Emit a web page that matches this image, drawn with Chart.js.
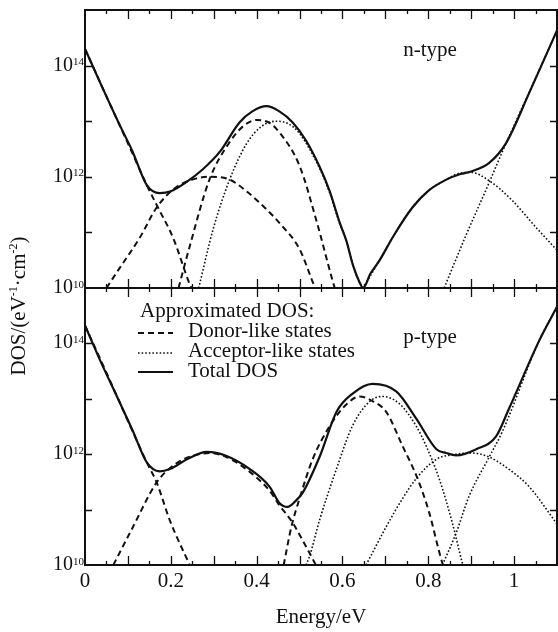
<!DOCTYPE html>
<html>
<head>
<meta charset="utf-8">
<script src="https://cdn.jsdelivr.net/npm/chart.js@4"></script>
<style>
  html, body { margin: 0; padding: 0; background: #fff; }
  #wrap { position: relative; width: 558px; height: 632px; }
  canvas { position: absolute; left: 0; top: 0; }
</style>
</head>
<body>
<div id="wrap">
  <canvas id="nChart" width="558" height="632"></canvas>
  <canvas id="pChart" width="558" height="632"></canvas>
</div>
<script>
// energy (eV), DOS (eV^-1 cm^-2) pairs

// n-type panel
const nTotal = [[0,2.0e14],[0.035,5.0e13],[0.081,8.5e12],[0.11,2.95e12],[0.144,7.1e11],[0.174,5.1e11],[0.2,5.5e11],[0.237,8.1e11],[0.274,1.35e12],[0.314,2.8e12],[0.36,9.5e12],[0.39,1.5e13],[0.423,1.86e13],[0.453,1.5e13],[0.484,9.5e12],[0.515,4.5e12],[0.547,1.5e12],[0.57,5.6e11],[0.593,1.55e11],[0.609,7.1e10],[0.625,2.5e10],[0.64,1.26e10],[0.648,1.0e10],[0.665,1.8e10],[0.686,3.1e10],[0.72,8.9e10],[0.763,2.8e11],[0.8,5.6e11],[0.842,8.9e11],[0.875,1.12e12],[0.902,1.26e12],[0.942,1.78e12],[0.981,4.0e12],[1.035,3.2e13],[1.1,4.3e14]];
const nDonorTail = [[0,2.0e14],[0.05,2.8e13],[0.1,4.0e12],[0.144,7.1e11],[0.17,2.8e11],[0.205,8.1e10],[0.244,1.17e10],[0.248,1.0e10]];
const nDonorA = [[0.05,1.0e10],[0.081,2.3e10],[0.128,8.1e10],[0.167,2.8e11],[0.21,6.3e11],[0.25,8.9e11],[0.29,1.0e12],[0.337,8.9e11],[0.38,5.2e11],[0.423,2.6e11],[0.453,1.48e11],[0.5,5.0e10],[0.53,1.32e10],[0.536,1.0e10]];
const nDonorB = [[0.218,1.0e10],[0.244,5.6e10],[0.29,8.9e11],[0.337,4.2e12],[0.37,8.3e12],[0.4,1.05e13],[0.43,9.3e12],[0.453,6.3e12],[0.5,1.58e12],[0.539,1.66e11],[0.577,1.35e10],[0.582,1.0e10]];
const nAcceptorC = [[0.265,1.0e10],[0.298,1.1e11],[0.337,8.9e11],[0.377,4.0e12],[0.41,7.9e12],[0.446,1.0e13],[0.475,8.9e12],[0.5,6.0e12],[0.547,1.41e12],[0.57,5.2e11],[0.593,1.48e11],[0.609,7.1e10],[0.625,2.5e10],[0.64,1.26e10],[0.648,1.0e10]];
const nAcceptorD = [[0.648,1.0e10],[0.686,3.1e10],[0.72,8.9e10],[0.763,2.8e11],[0.8,5.6e11],[0.842,8.9e11],[0.87,1.15e12],[0.9,1.2e12],[0.942,8.5e11],[0.995,3.8e11],[1.051,1.23e11],[1.1,4.8e10]];
const nAcceptorTail = [[0.837,1.0e10],[0.888,8.9e10],[0.942,7.9e11],[0.972,2.75e12],[1.035,3.3e13],[1.1,4.2e14]];

// p-type panel
const pTotal = [[0,2.1e14],[0.035,5.0e13],[0.074,1.12e13],[0.11,2.8e12],[0.144,7.1e11],[0.174,4.9e11],[0.198,5.4e11],[0.24,8.3e11],[0.284,1.1e12],[0.33,9.3e11],[0.384,5.4e11],[0.43,2.6e11],[0.453,1.32e11],[0.472,1.12e11],[0.49,1.41e11],[0.507,2.0e11],[0.547,9.1e11],[0.586,5.8e12],[0.623,1.23e13],[0.67,1.86e13],[0.726,1.35e13],[0.772,4.4e12],[0.819,1.23e12],[0.842,1.05e12],[0.865,9.5e11],[0.912,1.23e12],[0.958,2.1e12],[0.988,6.6e12],[1.058,1.1e14],[1.1,4.6e14]];
const pDonorTail = [[0,2.1e14],[0.05,2.95e13],[0.1,4.0e12],[0.144,7.1e11],[0.167,3.1e11],[0.198,6.3e10],[0.244,1.0e10]];
const pDonorA = [[0.066,1.0e10],[0.112,4.9e10],[0.167,3.1e11],[0.21,6.6e11],[0.25,9.3e11],[0.29,1.05e12],[0.33,8.9e11],[0.384,4.8e11],[0.43,2.2e11],[0.453,1.2e11],[0.484,5.8e10],[0.507,2.8e10],[0.523,1.66e10],[0.538,1.0e10]];
const pDonorB = [[0.463,1.0e10],[0.481,4.9e10],[0.5,1.58e11],[0.53,7.9e11],[0.57,3.2e12],[0.609,7.9e12],[0.64,1.1e13],[0.67,9.1e12],[0.702,5.8e12],[0.74,1.41e12],[0.774,3.8e11],[0.802,8.9e10],[0.826,1.66e10],[0.834,1.0e10]];
const pAcceptorC = [[0.515,1.0e10],[0.523,1.41e10],[0.547,6.6e10],[0.586,5.4e11],[0.623,3.2e12],[0.663,8.9e12],[0.693,1.1e13],[0.733,8.1e12],[0.772,3.2e12],[0.795,1.41e12],[0.826,3.5e11],[0.856,5.8e10],[0.879,1.12e10],[0.881,1.0e10]];
const pAcceptorD = [[0.655,1.0e10],[0.702,4.9e10],[0.74,1.58e11],[0.774,3.8e11],[0.819,8.1e11],[0.865,1.0e12],[0.9,1.05e12],[0.942,8.9e11],[0.99,5.2e11],[1.035,2.6e11],[1.1,5.5e10]];
const pAcceptorTail = [[0.833,1.0e10],[0.865,3.8e10],[0.895,1.74e11],[0.942,8.9e11],[0.972,2.5e12],[1.058,1.1e14],[1.1,4.6e14]];

// axes
const xMin = 0, xMax = 1.1;
const yMin = 1e10, yMax = 1e15;
const xMajorTicks = [0.1, 0.2, 0.3, 0.4, 0.5, 0.6, 0.7, 0.8, 0.9, 1.0];
const xMinorTicks = [0.05, 0.15, 0.25, 0.35, 0.45, 0.55, 0.65, 0.75, 0.85, 0.95, 1.05];
const xTickLabels = [0, 0.2, 0.4, 0.6, 0.8, 1];
const yTicks = [1e11, 1e12, 1e13, 1e14];
const yTickLabels = [1e10, 1e12, 1e14];

const legendTitle = 'Approximated DOS:';
const legendItems = ['Donor-like states', 'Acceptor-like states', 'Total DOS'];

const INK = '#111';
const SERIF = '"Liberation Serif", "Times New Roman", serif';
const styles = {
  total:    { borderWidth: 2.2, borderDash: [] },
  donor:    { borderWidth: 2,   borderDash: [6, 4] },
  acceptor: { borderWidth: 1.6, borderDash: [1.6, 2] }
};

function pts(arr) { return arr.map(([x, y]) => ({ x, y })); }

function ds(arr, kind) {
  return {
    data: pts(arr),
    borderColor: INK,
    borderWidth: styles[kind].borderWidth,
    borderDash: styles[kind].borderDash,
    pointRadius: 0,
    fill: false,
    cubicInterpolationMode: 'monotone'
  };
}

// frame, inward ticks, labels — drawn with the chart's own scales
const framePlugin = {
  id: 'frame',
  afterDraw(chart, args, o) {
    const { ctx, chartArea: a, scales: { x, y } } = chart;
    ctx.save();
    ctx.strokeStyle = INK;
    ctx.fillStyle = INK;
    ctx.lineWidth = 2;
    ctx.setLineDash([]);
    ctx.strokeRect(a.left, a.top, a.right - a.left, a.bottom - a.top);

    ctx.lineWidth = 1.3;
    ctx.beginPath();
    const xt = (v, len) => {
      const px = Math.round(x.getPixelForValue(v)) + 0.5;
      ctx.moveTo(px, a.top); ctx.lineTo(px, a.top + len);
      ctx.moveTo(px, a.bottom); ctx.lineTo(px, a.bottom - len);
    };
    xMajorTicks.forEach(v => xt(v, 9));
    xMinorTicks.forEach(v => xt(v, 4));
    yTicks.forEach(v => {
      const py = Math.round(y.getPixelForValue(v)) + 0.5;
      ctx.moveTo(a.left, py); ctx.lineTo(a.left + 7, py);
      ctx.moveTo(a.right, py); ctx.lineTo(a.right - 7, py);
    });
    ctx.stroke();

    // y tick labels 10^n
    yTickLabels.forEach(v => {
      const py = y.getPixelForValue(v);
      const exp = String(Math.round(Math.log10(v)));
      ctx.font = '11px ' + SERIF;
      const ew = ctx.measureText(exp).width;
      ctx.textAlign = 'left';
      ctx.textBaseline = 'alphabetic';
      ctx.fillText(exp, 84 - ew, py - 0.5);
      ctx.font = '20px ' + SERIF;
      ctx.textAlign = 'right';
      ctx.fillText('10', 84 - ew, py + 5);
    });

    // panel label
    ctx.font = '21px ' + SERIF;
    ctx.textAlign = 'center';
    ctx.textBaseline = 'middle';
    ctx.fillText(o.label, o.labelX, o.labelY);

    if (o.bottom) {
      ctx.font = '21px ' + SERIF;
      ctx.textAlign = 'center';
      ctx.textBaseline = 'middle';
      xTickLabels.forEach(v => ctx.fillText(String(v), x.getPixelForValue(v), 581));
      ctx.fillText('Energy/eV', (a.left + a.right) / 2, 617);

      // y title with superscripts
      const runs = [['DOS/(eV', false], ['-1', true], ['\u00b7cm', false], ['-2', true], [')', false]];
      const fontFor = sup => (sup ? '12px ' : '21px ') + SERIF;
      let w = 0;
      runs.forEach(([t, s]) => { ctx.font = fontFor(s); w += ctx.measureText(t).width; });
      ctx.save();
      ctx.translate(18, 306);
      ctx.rotate(-Math.PI / 2);
      ctx.textAlign = 'left';
      ctx.textBaseline = 'alphabetic';
      let cx = -w / 2;
      runs.forEach(([t, s]) => {
        ctx.font = fontFor(s);
        ctx.fillText(t, cx, s ? -1 : 7);
        cx += ctx.measureText(t).width;
      });
      ctx.restore();

      // legend
      ctx.font = '21px ' + SERIF;
      ctx.textAlign = 'left';
      ctx.textBaseline = 'alphabetic';
      ctx.fillText(legendTitle, 140, 317);
      const kinds = ['donor', 'acceptor', 'total'];
      const baseY = [337, 357, 377];
      const lineY = [333, 353, 372];
      legendItems.forEach((t, i) => {
        const st = styles[kinds[i]];
        ctx.lineWidth = st.borderWidth;
        ctx.setLineDash(st.borderDash);
        ctx.beginPath();
        ctx.moveTo(138, lineY[i]); ctx.lineTo(173, lineY[i]);
        ctx.stroke();
        ctx.setLineDash([]);
        ctx.fillText(t, 188, baseY[i]);
      });
    }
    ctx.restore();
  }
};

function makePanel(canvasId, datasets, top, bottom, frameOpts) {
  return new Chart(document.getElementById(canvasId), {
    type: 'line',
    data: { datasets },
    plugins: [framePlugin],
    options: {
      responsive: false,
      animation: false,
      devicePixelRatio: 1,
      layout: { padding: { left: 85, right: 1, top: top, bottom: 632 - bottom } },
      scales: {
        x: { type: 'linear', min: xMin, max: xMax, display: false },
        y: { type: 'logarithmic', min: yMin, max: yMax, display: false }
      },
      plugins: {
        legend: { display: false },
        tooltip: { enabled: false },
        frame: frameOpts
      }
    }
  });
}

makePanel('nChart', [
  ds(nTotal, 'total'),
  ds(nDonorTail, 'donor'), ds(nDonorA, 'donor'), ds(nDonorB, 'donor'),
  ds(nAcceptorC, 'acceptor'), ds(nAcceptorD, 'acceptor'), ds(nAcceptorTail, 'acceptor')
], 10, 288, { label: 'n-type', labelX: 430, labelY: 50, bottom: false });

makePanel('pChart', [
  ds(pTotal, 'total'),
  ds(pDonorTail, 'donor'), ds(pDonorA, 'donor'), ds(pDonorB, 'donor'),
  ds(pAcceptorC, 'acceptor'), ds(pAcceptorD, 'acceptor'), ds(pAcceptorTail, 'acceptor')
], 288, 565, { label: 'p-type', labelX: 430, labelY: 337, bottom: true });
</script>
</body>
</html>
